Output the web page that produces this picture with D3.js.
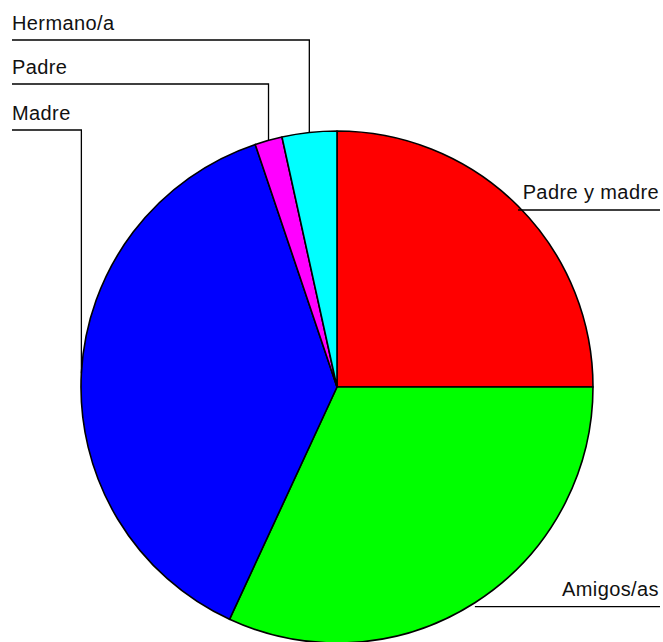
<!DOCTYPE html>
<html>
<head>
  <meta charset="UTF-8">
  <title>Pie chart</title>
  <script src="https://d3js.org/d3.v7.min.js"></script>
  <style>
    html, body {
      margin: 0;
      padding: 0;
      background: #fff;
    }
    svg {
      display: block;
    }
    .label {
      font-family: "Liberation Sans", Arial, sans-serif;
      font-size: 20px;
      letter-spacing: 0.4px;
      fill: #111;
    }
    .leader {
      fill: none;
      stroke: #000;
      stroke-width: 1.3;
    }
  </style>
</head>
<body>
  <svg width="663" height="642"></svg>

  <script>
    // slices clockwise from 12 o'clock
    const categories = ["Padre y madre", "Amigos/as", "Madre", "Padre", "Hermano/a"];
    const counts = [29, 37, 44, 2, 4];
    const colors = ["#ff0000", "#00ff00", "#0000ff", "#ff00ff", "#00ffff"];

    const data = categories.map((c, i) => ({ name: c, val: counts[i], color: colors[i] }));

    const svg = d3.select("svg");
    const cx = 337, cy = 387, r = 256;

    const g = svg.append("g").attr("transform", `translate(${cx},${cy})`);

    const pie = d3.pie().sort(null).value(d => d.val);
    const arcs = pie(data);

    const arc = d3.arc().innerRadius(0).outerRadius(r);

    g.selectAll("path.slice")
      .data(arcs)
      .enter()
      .append("path")
      .attr("class", "slice")
      .attr("d", arc)
      .attr("fill", d => d.data.color)
      .attr("stroke", "#000")
      .attr("stroke-width", 1.6)
      .attr("stroke-linejoin", "round");

    // point on the rim at each slice's middle angle
    function rim(d) {
      const a = (d.startAngle + d.endAngle) / 2;
      return [cx + r * Math.sin(a), cy - r * Math.cos(a)];
    }

    // left labels stacked at the top, right labels level with the rim point
    const leftY = { "Hermano/a": 40, "Padre": 84, "Madre": 130 };
    const rightEnd = 660, leftStart = 12;

    arcs.forEach(d => {
      const [px, py] = rim(d);
      const name = d.data.name;
      if (leftY[name] !== undefined) {
        const ly = leftY[name];
        svg.append("path")
          .attr("class", "leader")
          .attr("d", `M${leftStart},${ly}H${px}V${py}`);
        svg.append("text")
          .attr("class", "label")
          .attr("x", leftStart)
          .attr("y", ly - 10)
          .text(name);
      } else {
        const ly = py + 4;
        svg.append("path")
          .attr("class", "leader")
          .attr("d", `M${px},${ly}H${rightEnd}`);
        svg.append("text")
          .attr("class", "label")
          .attr("x", rightEnd - 1)
          .attr("y", ly - 11)
          .attr("text-anchor", "end")
          .text(name);
      }
    });
  </script>
</body>
</html>
